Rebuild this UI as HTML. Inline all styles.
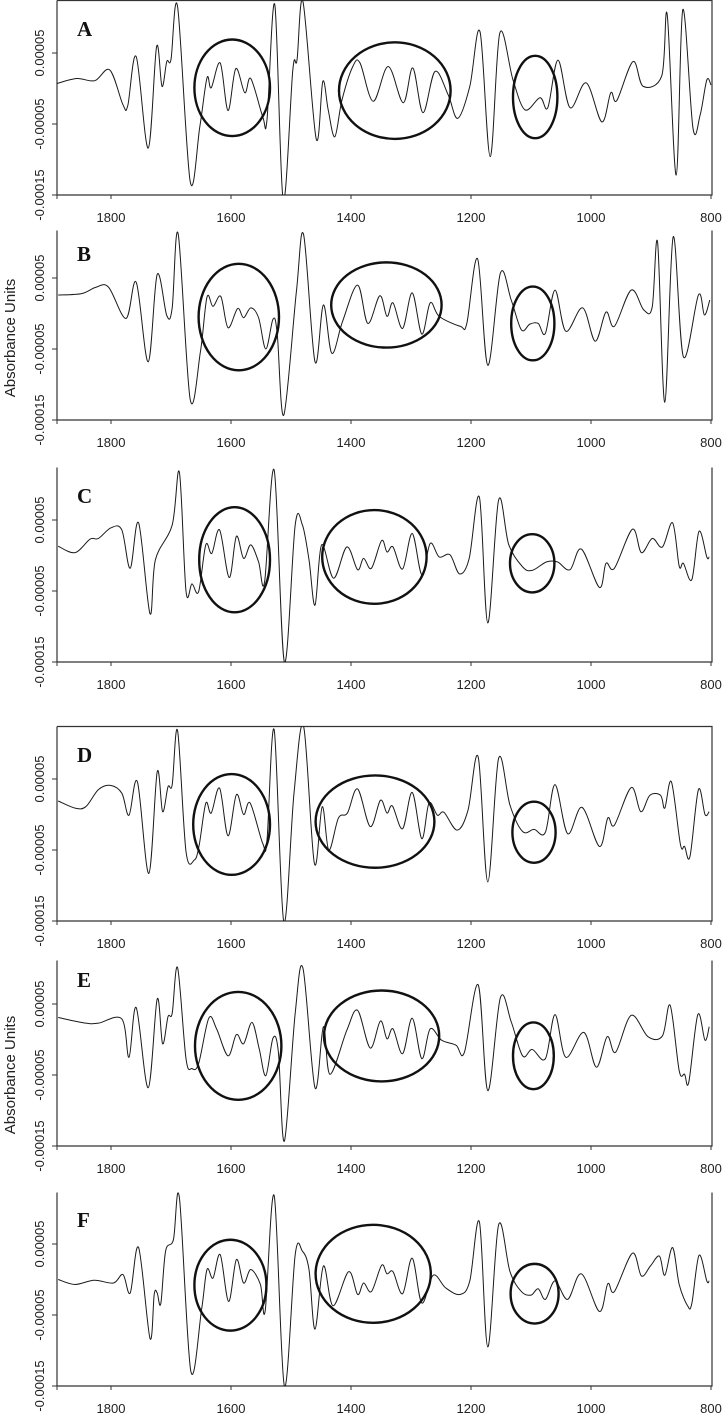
<!DOCTYPE html>
<html><head><meta charset="utf-8">
<style>
html,body{margin:0;padding:0;background:#fff;}
svg{display:block;}
text{font-family:"Liberation Sans",Arial,sans-serif;fill:#222;}
.lt{font-family:"Liberation Serif","Times New Roman",serif;font-weight:bold;font-size:21px;fill:#111;}
</style></head>
<body>
<svg id="chart" width="724" height="1415" viewBox="0 0 724 1415" xmlns="http://www.w3.org/2000/svg"></svg>
<script>
// ---- data (absorbance values in units of 1e-5) ----
const panelLabels = ["A","B","C","D","E","F"];
const xTickValues = [1800,1600,1400,1200,1000,800];
const yTickValues = [0.00005,-0.00005,-0.00015];
const yTickLabels = ["0.00005","-0.00005","-0.00015"];

const aWave=[1890,1857,1827,1802,1780,1772,1758,1738,1724,1715,1707,1700,1689,1668,1652,1640,1633,1618,1605,1592,1577,1567,1547,1540,1527,1513,1497,1490,1480,1458,1447,1438,1427,1415,1397,1385,1363,1338,1313,1297,1280,1260,1238,1222,1202,1185,1168,1152,1130,1110,1085,1072,1055,1035,1008,982,967,957,930,913,882,873,858,847,830,818,807,800];
const aAbs=[0.7,1.4,1.1,2.6,-2.3,-2.4,4.5,-8.4,5.9,0.3,3.8,4.1,11.5,-13.1,-5.4,1.5,0.1,3.6,-3.1,2.8,-0.6,1.4,-4,-4.4,11.8,-15.7,2.6,4,12.2,-7.1,1,-3,-6.8,-1.6,3.1,3.6,-1.8,3.1,-2,2.9,-3.4,2.4,-0.9,-4.2,0.3,8,-9.6,7.8,1.2,-3,-1.3,-2.7,4,-2.7,0.8,-4.7,-0.6,-1.7,3.8,0.3,1.8,10.4,-12.2,11.1,-5.6,-3.7,1.2,0.5];

const bWave=[1888,1849,1825,1804,1775,1758,1738,1723,1707,1698,1688,1668,1651,1640,1630,1617,1605,1589,1579,1567,1554,1542,1530,1523,1512,1491,1479,1460,1446,1432,1414,1389,1372,1352,1340,1330,1314,1298,1282,1268,1253,1218,1207,1189,1172,1151,1133,1116,1102,1088,1076,1060,1042,1014,993,975,961,933,912,898,889,877,863,846,821,811,802];
const bAbs=[2.6,2.8,3.7,3.7,-0.7,4.4,-6.8,5.5,-0.3,0.8,11.2,-12.1,-5.4,2.3,1,2.4,-2,0.7,-0.6,0.8,-0.6,-5,-0.8,-2.8,-14.3,3.1,11.1,-6.8,1.2,-5.6,-1.1,4,-1.4,2.5,-0.4,1.5,-2.1,2.9,-2.9,1.5,-0.4,-1.8,-1.4,7.7,-7.3,5.7,1.9,-2.3,-1.5,-1.4,-2.8,3.3,-2.5,0.8,-3.9,0.2,-1.8,3.3,0.5,0.9,10,-12.5,10.8,-6.1,2.6,-0.2,1.9];

const cWave=[1888,1860,1835,1821,1800,1782,1768,1754,1735,1726,1698,1686,1675,1665,1654,1642,1632,1619,1603,1591,1579,1567,1554,1544,1528,1511,1493,1481,1470,1460,1449,1429,1407,1389,1379,1366,1349,1340,1330,1314,1298,1282,1268,1253,1235,1219,1203,1186,1172,1154,1137,1114,1098,1074,1056,1035,1016,986,975,961,931,916,898,881,864,853,846,832,820,807,803];
const cAbs=[1.3,0.4,2.3,2.4,3.9,3.6,-1.8,4.6,-8.2,-0.6,4.3,11.7,-5,-4,-5.1,1.5,0.3,3.6,-3.1,2.7,-0.4,1.5,-0.9,-3.7,12,-15,4.3,4.3,-0.6,-7,1.5,-3.2,1.2,-2,-0.4,-1.8,2.1,0.5,1.2,-1.9,3.1,-2.7,1.7,-0.2,0.1,-2.6,-0.4,8.2,-9.5,7.8,1.5,-1.6,-2.1,-0.9,-0.9,-2,0.9,-4.5,-1.1,-1.8,3.7,0.4,2.4,1.2,4.6,-1.5,-1.1,-3.4,3.4,-0.2,-0.2];

const dWave=[1888,1860,1842,1821,1801,1782,1770,1756,1737,1723,1714,1705,1698,1689,1675,1661,1653,1642,1633,1619,1605,1591,1579,1568,1547,1540,1528,1512,1495,1479,1461,1448,1437,1421,1406,1389,1368,1351,1340,1331,1314,1298,1282,1270,1256,1245,1223,1205,1188,1172,1154,1135,1114,1095,1076,1060,1039,1015,986,972,961,933,917,902,884,877,866,851,844,835,821,810,803];
const dAbs=[1.9,0.9,1.1,3.5,4.1,3,-0.1,4.6,-8.3,6,0.4,3.9,4.2,11.8,-5.2,-6.4,-4.3,1.6,0.2,3.7,-3,2.8,0,1.6,-4.1,-3.6,11.9,-15.1,3,12.4,-6.9,1.1,-5,-0.5,0.2,3.6,-1.7,2,0.2,1.2,-2,3.1,-3.4,1.6,-0.1,0.3,-2.2,0.6,8.1,-9.5,7.9,1.3,-2.4,-2.1,-2.5,4.2,-2.7,1,-4.5,-0.5,-1.5,3.8,0.4,2.7,2.7,0.9,4.6,-4.2,-4.5,-5.9,3.5,0,0.4];

const eWave=[1888,1842,1821,1782,1770,1758,1738,1723,1714,1705,1698,1689,1675,1665,1654,1637,1624,1605,1591,1579,1565,1553,1542,1530,1521,1511,1493,1480,1460,1446,1435,1407,1389,1368,1351,1340,1330,1314,1298,1282,1268,1249,1225,1211,1188,1172,1151,1133,1114,1098,1076,1060,1042,1012,991,973,959,933,905,881,868,853,844,837,822,810,803];
const eAbs=[3.1,2.3,2.3,2.9,-2.5,4.5,-6.8,5.7,-0.6,3.2,3.7,10.1,-2.7,-4.1,-3.4,3,1.5,-2.3,0.7,-0.6,2.4,-1.3,-5.1,0.2,-1.8,-14.3,3.7,10,-6.8,1.8,-4.9,1.3,4.1,-1.2,2.6,0.1,1.5,-2,3,-2.7,1.5,-0.1,-0.8,-1.8,7.7,-7.2,5.9,2.5,-2.3,-1.4,-2.7,3.5,-2.5,1,-3.9,0.4,-1.8,3.4,0.4,0.5,4.8,-4.4,-4.9,-6,3.5,-0.1,1.8];

const fWave=[1888,1860,1828,1796,1780,1768,1754,1735,1728,1723,1717,1709,1696,1686,1667,1649,1640,1630,1618,1604,1591,1579,1567,1551,1543,1528,1511,1493,1481,1470,1460,1446,1430,1404,1389,1379,1366,1349,1340,1330,1314,1298,1282,1263,1242,1218,1202,1186,1172,1154,1135,1116,1100,1088,1076,1060,1039,1016,986,972,961,931,916,901,886,877,864,853,839,832,820,807,803];
const fAbs=[0,-0.7,-0.1,-0.5,0.7,-1.9,4.5,-8.3,-2.1,-1.9,-3.4,4,5.6,11.5,-12.9,-4.2,1.4,0.2,3.5,-3.1,2.8,-0.5,1.4,-0.7,-4.4,11.8,-15,3.5,4,1.4,-7,1.9,-3.7,1.1,-2.1,-0.5,-1.7,2,0.8,1.1,-2,3,-3.3,0.6,-1.2,-2.1,-0.2,8.1,-9.5,7.7,1.1,-1.7,-2.2,-1.3,-2.8,-0.2,-2.8,0.8,-4.5,-0.6,-1.7,3.7,0.5,1.9,3.3,0.6,4.5,-0.7,-3.7,-3.4,3.4,-0.2,-0.2];

// ellipse annotations: centre wavenumber, centre value (1e-5), radius in wavenumber, radius in value
const aEllW=[1598,1327,1093], aEllV=[0.1,-0.3,-1.2], aEllRW=[63,93,37], aEllRV=[6.8,6.8,5.8];
const bEllW=[1587,1341,1097], bEllV=[-0.5,1.2,-1.4], bEllRW=[67,92,36], bEllRV=[7.5,6,5.2];
const cEllW=[1594,1361,1098], cEllV=[-0.6,-0.2,-1.1], cEllRW=[59,87,37], cEllRV=[7.4,6.6,4.1];
const dEllW=[1599,1360,1095], dEllV=[-1.4,-1,-2.5], dEllRW=[64,99,36], dEllRV=[7.1,6.5,4.3];
const eEllW=[1588,1349,1096], eEllV=[-0.9,0.5,-2.3], eEllRW=[72,96,34], eEllRV=[7.6,6.4,4.7];
const fEllW=[1601,1363,1094], fEllV=[-0.8,0.8,-2], fEllRW=[60,96,40], fEllRV=[6.4,6.9,4.2];

// ---- layout ----
const panelTickTop=[53,278,520,779,1004,1244];   // y pixel of 0.00005 tick
const panelTop=[0,230,467,726,960,1192];
const panelBox=[true,false,false,true,false,false];
const waves=[aWave,bWave,cWave,dWave,eWave,fWave];
const absv=[aAbs,bAbs,cAbs,dAbs,eAbs,fAbs];
const ellW=[aEllW,bEllW,cEllW,dEllW,eEllW,fEllW], ellV=[aEllV,bEllV,cEllV,dEllV,eEllV,fEllV];
const ellRW=[aEllRW,bEllRW,cEllRW,dEllRW,eEllRW,fEllRW], ellRV=[aEllRV,bEllRV,cEllRV,dEllRV,eEllRV,fEllRV];

const NS="http://www.w3.org/2000/svg";
const svg=document.getElementById('chart');
const X0=57, X1=712;
const PX_PER_UNIT=7.1; // pixels per 1e-5
function xScale(w){return 111+(1800-w)*0.6;}
function yScaleFactory(tick){const zero=tick+5*PX_PER_UNIT;return v=>zero-v*PX_PER_UNIT;}
function mk(tag,attrs,parent){const e=document.createElementNS(NS,tag);for(const k in attrs)e.setAttribute(k,attrs[k]);(parent||svg).appendChild(e);return e;}
function smoothPath(pts){
  let d="M"+pts[0][0].toFixed(2)+","+pts[0][1].toFixed(2);
  for(let i=0;i<pts.length-1;i++){
    const p0=pts[i-1]||pts[i],p1=pts[i],p2=pts[i+1],p3=pts[i+2]||p2;
    const c1x=p1[0]+(p2[0]-p0[0])/6,c1y=p1[1]+(p2[1]-p0[1])/6;
    const c2x=p2[0]-(p3[0]-p1[0])/6,c2y=p2[1]-(p3[1]-p1[1])/6;
    d+=" C"+c1x.toFixed(2)+","+c1y.toFixed(2)+" "+c2x.toFixed(2)+","+c2y.toFixed(2)+" "+p2[0].toFixed(2)+","+p2[1].toFixed(2);
  }
  return d;
}

for(let p=0;p<6;p++){
  const tick=panelTickTop[p];
  const yS=yScaleFactory(tick);
  const top=panelTop[p]+0.5, bottom=yS(-15);
  const g=mk('g',{});
  
  
  const cp=mk('clipPath',{id:'clip'+p},g);
  mk('rect',{x:X0,y:top,width:X1-X0,height:bottom-top},cp);

  // axes
  const ax=mk('path',{d:`M${X0},${top} L${X0},${bottom} L${X1},${bottom} L${X1},${top}`+(panelBox[p]?` L${X0},${top}`:''),fill:'none',stroke:'#333','stroke-width':1.2},g);
  
  

  // y ticks
  yTickValues.forEach((v,i)=>{
    const y=yS(v*1e5);
    const t=mk('line',{x1:X0-5,x2:X0,y1:y,y2:y,stroke:'#333','stroke-width':1},g);
    
    
    const lab=mk('text',{x:0,y:0,'font-size':13,'text-anchor':'middle',transform:`translate(44,${y}) rotate(-90)`},g);
    lab.textContent=yTickLabels[i];
    
    
  });
  // x ticks
  const lt=mk('line',{x1:X0,x2:X0,y1:bottom,y2:bottom+4,stroke:'#333','stroke-width':1},g);
  
  
  xTickValues.forEach(w=>{
    const x=xScale(w);
    const t=mk('line',{x1:x,x2:x,y1:bottom,y2:bottom+4,stroke:'#333','stroke-width':1},g);
    
    
    const lab=mk('text',{x:x,y:bottom+27,'font-size':13,'text-anchor':'middle'},g);
    lab.textContent=String(w);
    
    
  });
  // panel letter
  const L=mk('text',{x:77,y:tick-17,class:'lt'},g);
  L.textContent=panelLabels[p];
  
  

  // spectrum
  const pts=waves[p].map((w,i)=>[xScale(w),yS(absv[p][i])]);
  const line=mk('path',{d:smoothPath(pts),fill:'none',stroke:'#1a1a1a','stroke-width':1,'clip-path':`url(#clip${p})`},g);
  
  

  // ellipses
  for(let k=0;k<ellW[p].length;k++){
    const cx=xScale(ellW[p][k]), cy=yS(ellV[p][k]);
    const rx=ellRW[p][k]*0.6, ry=ellRV[p][k]*PX_PER_UNIT;
    const el=mk('ellipse',{cx:cx,cy:cy,rx:rx,ry:ry,fill:'none',stroke:'#111','stroke-width':2.4},g);
    
    
  }
}
// shared y-axis titles
[338,1075].forEach(cy=>{
  const t=mk('text',{x:0,y:0,'font-size':15,'text-anchor':'middle',transform:`translate(15,${cy}) rotate(-90)`});
  t.textContent='Absorbance Units';
  
  
});
</script>
</body></html>
